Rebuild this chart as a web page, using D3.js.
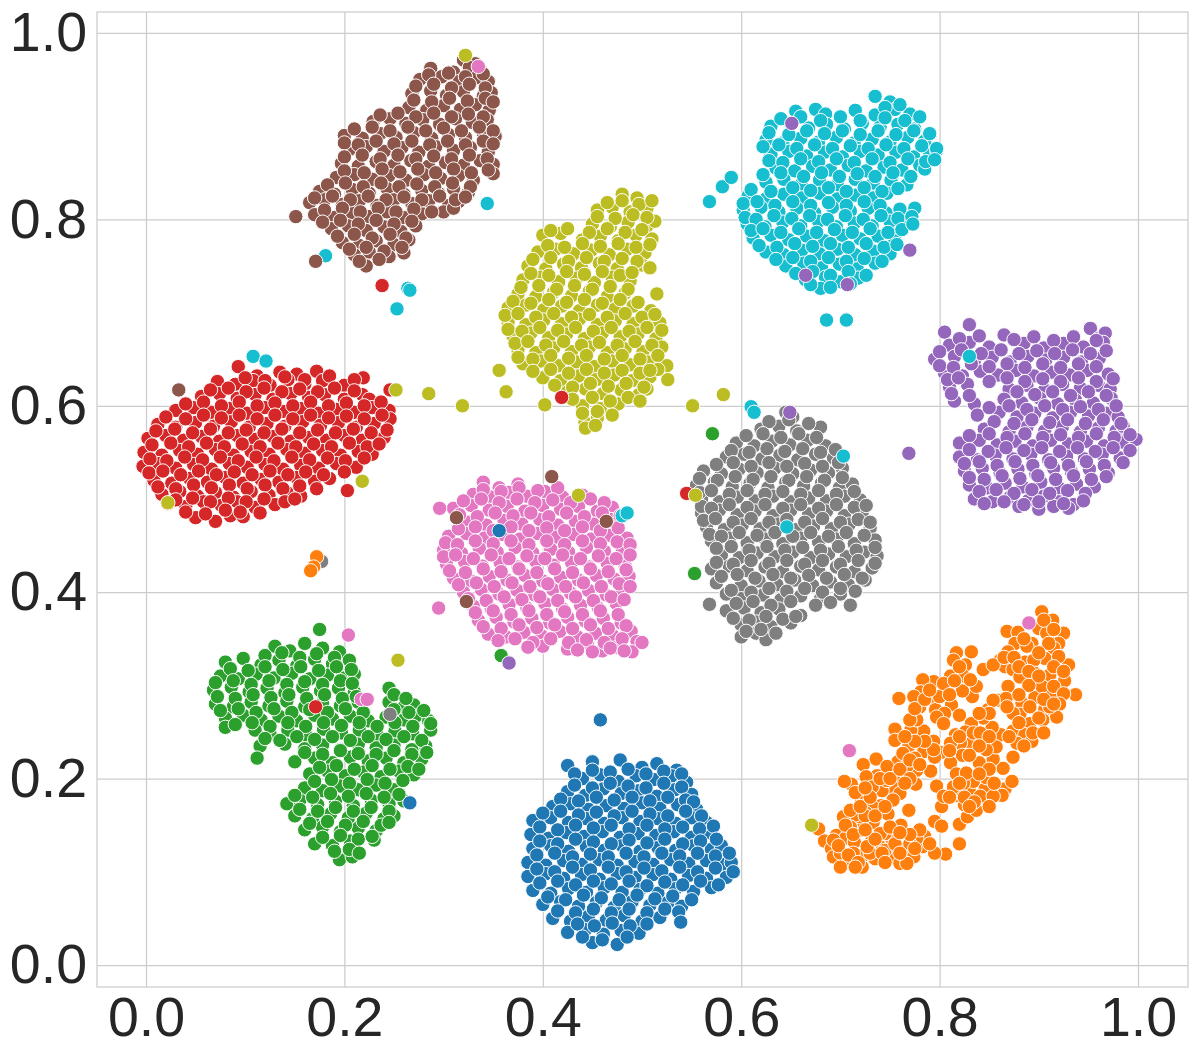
<!DOCTYPE html>
<html>
<head>
<meta charset="utf-8">
<script src="https://d3js.org/d3.v7.min.js"></script>
<style>
  body { margin: 0; background: #fff; }
  text { font-family: "Liberation Sans", Arial, sans-serif; }
</style>
</head>
<body>
<div id="chart"></div>
<script>
const xTicks = [0, 0.2, 0.4, 0.6, 0.8, 1.0];
const yTicks = [0, 0.2, 0.4, 0.6, 0.8, 1.0];
const palette = ['#1f77b4', '#ff7f0e', '#2ca02c', '#d62728', '#9467bd', '#8c564b', '#e377c2', '#7f7f7f', '#bcbd22', '#17becf'];

const blue = [[.425,.214],[.45,.218],[.478,.22],[.5,.212],[.515,.216],[.535,.209],[.44,.2],[.458,.204],[.476,.197],[.494,.203],[.512,.199],[.53,.203],[.545,.196],[.425,.186],[.443,.182],[.461,.189],[.479,.184],[.497,.187],[.515,.181],[.533,.188],[.55,.183],[.41,.17],[.428,.173],[.446,.167],[.464,.171],[.482,.168],[.5,.174],[.518,.168],[.536,.172],[.555,.167],[.39,.155],[.408,.158],[.426,.153],[.444,.157],[.462,.152],[.48,.158],[.498,.154],[.516,.157],[.534,.152],[.55,.158],[.565,.153],[.388,.14],[.406,.136],[.424,.142],[.442,.138],[.46,.143],[.478,.137],[.496,.141],[.514,.139],[.532,.143],[.55,.137],[.568,.142],[.39,.125],[.408,.128],[.426,.122],[.444,.127],[.462,.123],[.48,.128],[.498,.122],[.516,.126],[.534,.123],[.552,.128],[.57,.124],[.58,.128],[.385,.11],[.403,.107],[.421,.112],[.439,.108],[.457,.113],[.475,.107],[.493,.111],[.511,.108],[.529,.113],[.547,.109],[.565,.112],[.583,.108],[.59,.11],[.385,.095],[.403,.098],[.421,.093],[.439,.097],[.457,.092],[.475,.098],[.493,.094],[.511,.097],[.529,.092],[.547,.096],[.565,.093],[.585,.094],[.39,.08],[.408,.077],[.426,.082],[.444,.078],[.462,.083],[.48,.078],[.498,.081],[.516,.077],[.534,.082],[.552,.079],[.57,.083],[.4,.065],[.418,.068],[.436,.063],[.454,.067],[.472,.062],[.49,.068],[.508,.064],[.526,.067],[.54,.063],[.41,.05],[.428,.047],[.446,.052],[.464,.048],[.482,.053],[.5,.047],[.518,.051],[.425,.035],[.443,.038],[.461,.033],[.479,.037],[.497,.034],[.45,.024],[.475,.022],
  [.432,.205],[.45,.209],[.468,.207],[.486,.21],[.504,.205],[.522,.208],[.54,.205],[.432,.193],[.45,.19],[.468,.195],[.486,.192],[.504,.19],[.522,.195],[.54,.191],[.418,.178],[.436,.176],[.454,.18],[.472,.177],[.49,.18],[.508,.176],[.526,.18],[.544,.177],[.552,.175],[.4,.163],[.418,.165],[.436,.161],[.454,.164],[.472,.16],[.49,.165],[.508,.162],[.526,.16],[.544,.165],[.56,.16],[.397,.148],[.415,.145],[.433,.15],[.451,.147],[.469,.15],[.487,.146],[.505,.15],[.523,.146],[.541,.148],[.558,.146],[.572,.149],[.397,.133],[.415,.13],[.433,.135],[.451,.132],[.469,.13],[.487,.134],[.505,.131],[.523,.135],[.541,.13],[.559,.133],[.575,.135],[.394,.118],[.412,.12],[.43,.116],[.448,.119],[.466,.116],[.484,.12],[.502,.116],[.52,.12],[.538,.117],[.556,.12],[.574,.117],[.588,.12],[.394,.103],[.412,.1],[.43,.105],[.448,.102],[.466,.105],[.484,.1],[.502,.104],[.52,.101],[.538,.105],[.556,.1],[.574,.104],[.592,.1],[.397,.088],[.415,.09],[.433,.086],[.451,.09],[.469,.087],[.487,.09],[.505,.085],[.523,.089],[.541,.086],[.559,.09],[.577,.086],[.405,.073],[.423,.07],[.441,.075],[.459,.072],[.477,.07],[.495,.075],[.513,.071],[.531,.074],[.55,.07],[.415,.058],[.433,.056],[.451,.06],[.469,.056],[.487,.06],[.505,.056],[.523,.06],[.537,.057],[.435,.044],[.452,.042],[.47,.045],[.488,.042],[.505,.044],[.44,.03],[.46,.027],[.485,.03]];

const orange = [[.903,.379],[.914,.37],[.9,.361],[.868,.358],[.879,.357],[.915,.352],[.925,.356],[.908,.356],[.893,.345],[.876,.345],[.92,.345],[.888,.342],[.915,.34],[.869,.336],[.861,.327],[.832,.336],[.817,.335],[.814,.327],[.826,.322],[.844,.317],[.866,.32],[.886,.325],[.906,.329],[.93,.322],[.92,.331],[.854,.322],[.874,.317],[.895,.327],[.896,.313],[.911,.311],[.881,.309],[.926,.305],[.937,.29],[.913,.29],[.896,.287],[.903,.299],[.915,.299],[.925,.291],[.869,.299],[.859,.284],[.833,.288],[.823,.294],[.807,.296],[.824,.31],[.811,.31],[.794,.304],[.783,.306],[.781,.293],[.759,.286],[.79,.285],[.812,.279],[.796,.274],[.805,.27],[.82,.268],[.78,.277],[.849,.274],[.867,.286],[.883,.281],[.881,.269],[.906,.274],[.921,.28],[.918,.266],[.904,.263],[.891,.259],[.874,.251],[.886,.247],[.893,.24],[.878,.238],[.862,.247],[.853,.255],[.844,.265],[.832,.259],[.826,.25],[.816,.247],[.832,.238],[.846,.241],[.821,.238],[.823,.225],[.801,.228],[.794,.24],[.784,.251],[.771,.252],[.777,.263],[.755,.253],[.755,.241],[.769,.235],[.784,.229],[.775,.222],[.795,.223],[.811,.217],[.791,.208],[.772,.206],[.758,.218],[.758,.203],[.736,.221],[.723,.215],[.737,.203],[.726,.202],[.711,.194],[.704,.197],[.747,.213],[.776,.194],[.753,.19],[.742,.187],[.721,.179],[.741,.171],[.732,.17],[.748,.162],[.769,.166],[.761,.15],[.733,.153],[.721,.152],[.715,.161],[.703,.159],[.718,.144],[.678,.146],[.684,.133],[.691,.125],[.702,.111],[.696,.139],[.705,.136],[.714,.132],[.723,.118],[.722,.105],[.735,.114],[.738,.13],[.752,.135],[.731,.132],[.745,.141],[.767,.122],[.756,.114],[.783,.127],[.785,.138],[.795,.154],[.802,.149],[.82,.151],[.828,.159],[.837,.166],[.825,.172],[.802,.17],[.797,.192],[.804,.181],[.817,.205],[.83,.187],[.817,.182],[.834,.197],[.846,.189],[.847,.201],[.84,.217],[.866,.189],[.864,.211],[.873,.197],[.863,.182],[.874,.223],[.854,.221],[.82,.13],[.806,.119],[.795,.12],[.774,.116],[.777,.136],[.71,.166],[.693,.116],[.71,.109],[.76,.109],[.767,.109],[.74,.141],[.891,.277],[.874,.27],[.911,.277],[.894,.249],[.905,.249],[.854,.284],[.868,.277],[.837,.299],[.831,.306],[.8,.288],[.774,.288],[.804,.302],[.77,.263],[.797,.266],[.804,.259],[.834,.249],[.841,.249],[.857,.234],[.847,.231],[.811,.238],[.794,.231],[.763,.227],[.777,.209],[.767,.213],[.747,.198],[.732,.191],[.76,.184],[.753,.177],[.726,.163],[.75,.148],[.71,.148],[.693,.134],[.7,.12],[.713,.12],[.73,.12],[.745,.123],[.757,.127],[.77,.13],[.78,.145],[.824,.195],[.841,.181],[.854,.181],[.814,.191],[.827,.206],
  [.698,.128],[.708,.118],[.718,.11],[.727,.127],[.742,.12],[.705,.15],[.713,.14],[.725,.16],[.735,.16],[.745,.17],[.72,.17],[.73,.18],[.715,.185],[.725,.19],[.74,.2],[.75,.2],[.76,.21],[.77,.2],[.765,.195],[.77,.22],[.78,.215],[.785,.24],[.775,.24],[.765,.245],[.775,.275],[.785,.285],[.79,.295],[.81,.29],[.815,.305],[.82,.32],[.865,.33],[.875,.33],[.88,.32],[.89,.315],[.89,.3],[.9,.31],[.915,.32],[.925,.315],[.91,.345],[.9,.335],[.885,.35],[.905,.37],[.915,.36],[.88,.29],[.905,.285],[.915,.28],[.9,.265],[.88,.26],[.885,.235],[.87,.245],[.85,.27],[.84,.27],[.85,.245],[.84,.235],[.82,.245],[.81,.23],[.83,.225],[.85,.21],[.84,.205],[.855,.195],[.82,.195],[.81,.18],[.825,.18],[.835,.175],[.85,.17],[.83,.17],[.755,.13],[.76,.12],[.775,.125],[.79,.13],[.745,.11],[.7,.105],[.715,.105],[.77,.14],[.76,.142],[.735,.135],[.725,.145]];

const green = [[.175,.36],[.13,.342],[.145,.337],[.16,.345],[.178,.34],[.195,.336],[.08,.325],[.098,.329],[.116,.322],[.134,.327],[.152,.321],[.17,.328],[.188,.323],[.205,.327],[.075,.31],[.093,.307],[.111,.312],[.129,.308],[.147,.313],[.165,.307],[.183,.311],[.2,.308],[.21,.312],[.068,.295],[.086,.298],[.104,.293],[.122,.297],[.14,.292],[.158,.298],[.176,.294],[.194,.297],[.21,.293],[.245,.297],[.07,.28],[.088,.277],[.106,.282],[.124,.278],[.142,.283],[.16,.277],[.178,.281],[.196,.278],[.214,.282],[.245,.282],[.26,.277],[.27,.279],[.08,.265],[.098,.268],[.116,.263],[.134,.267],[.152,.262],[.17,.268],[.188,.264],[.206,.267],[.224,.262],[.242,.266],[.26,.263],[.272,.267],[.285,.262],[.08,.255],[.11,.252],[.125,.248],[.143,.252],[.161,.247],[.179,.253],[.197,.249],[.215,.252],[.233,.247],[.251,.251],[.269,.248],[.287,.252],[.115,.235],[.14,.237],[.16,.232],[.178,.236],[.196,.231],[.214,.237],[.232,.233],[.25,.236],[.268,.231],[.282,.235],[.112,.222],[.15,.218],[.17,.222],[.188,.217],[.206,.223],[.224,.219],[.242,.222],[.26,.217],[.278,.221],[.165,.205],[.183,.208],[.201,.203],[.219,.207],[.237,.202],[.255,.208],[.27,.204],[.16,.19],[.178,.187],[.196,.192],[.214,.188],[.232,.193],[.25,.188],[.142,.173],[.155,.177],[.173,.172],[.191,.176],[.209,.171],[.227,.177],[.245,.173],[.26,.176],[.15,.16],[.168,.157],[.186,.162],[.204,.158],[.222,.163],[.24,.157],[.25,.16],[.16,.145],[.178,.148],[.196,.143],[.214,.147],[.232,.144],[.17,.13],[.188,.128],[.206,.133],[.23,.134],[.195,.113],[.208,.116],
  [.12,.332],[.137,.335],[.155,.33],[.172,.334],[.19,.33],[.085,.318],[.103,.316],[.12,.32],[.138,.317],[.156,.32],[.174,.316],[.192,.32],[.207,.317],[.07,.303],[.088,.305],[.106,.301],[.124,.305],[.142,.301],[.16,.304],[.178,.301],[.196,.305],[.208,.302],[.072,.288],[.09,.286],[.108,.29],[.126,.287],[.144,.29],[.162,.286],[.18,.29],[.198,.286],[.212,.288],[.25,.29],[.262,.286],[.075,.273],[.093,.275],[.111,.271],[.129,.275],[.147,.271],[.165,.274],[.183,.271],[.201,.275],[.219,.271],[.25,.274],[.265,.271],[.28,.273],[.09,.258],[.107,.26],[.125,.256],[.143,.26],[.161,.256],[.179,.26],[.197,.257],[.215,.26],[.233,.256],[.251,.26],[.269,.256],[.287,.259],[.12,.243],[.135,.241],[.152,.245],[.17,.242],[.188,.245],[.206,.241],[.224,.245],[.242,.242],[.26,.245],[.278,.241],[.16,.228],[.178,.226],[.196,.23],[.214,.227],[.232,.226],[.25,.23],[.268,.226],[.283,.228],[.175,.212],[.192,.214],[.21,.21],[.228,.214],[.246,.21],[.264,.213],[.275,.21],[.17,.197],[.187,.199],[.205,.195],[.223,.199],[.241,.195],[.259,.198],[.15,.182],[.168,.18],[.186,.184],[.204,.181],[.222,.184],[.24,.18],[.255,.183],[.155,.167],[.173,.165],[.191,.169],[.209,.165],[.227,.169],[.245,.165],[.165,.152],[.183,.154],[.201,.15],[.219,.154],[.237,.15],[.245,.153],[.178,.137],[.196,.139],[.214,.135],[.228,.138],[.19,.122],[.205,.124],[.215,.12]];

const red = [[.093,.642],[.112,.632],[.135,.636],[.152,.634],[.172,.637],[.072,.626],[.09,.623],[.108,.627],[.125,.622],[.143,.628],[.16,.623],[.178,.627],[.2,.622],[.219,.63],[.056,.61],[.074,.613],[.092,.608],[.11,.612],[.128,.607],[.146,.613],[.164,.609],[.18,.612],[.2,.607],[.218,.612],[.225,.607],[.03,.595],[.048,.598],[.066,.593],[.084,.597],[.102,.592],[.12,.598],[.138,.594],[.156,.597],[.174,.592],[.192,.596],[.21,.593],[.228,.598],[.245,.595],[.012,.58],[.03,.577],[.05,.582],[.068,.578],[.086,.583],[.104,.577],[.122,.581],[.14,.578],[.158,.583],[.176,.579],[.194,.582],[.212,.577],[.23,.581],[.246,.586],[.002,.565],[.02,.568],[.038,.563],[.056,.567],[.074,.562],[.092,.568],[.11,.564],[.128,.567],[.146,.562],[.164,.566],[.182,.563],[.2,.568],[.218,.563],[.24,.566],[-.002,.55],[.016,.547],[.034,.552],[.052,.548],[.07,.553],[.088,.547],[.106,.551],[.124,.548],[.142,.553],[.16,.549],[.178,.552],[.196,.547],[.214,.551],[.228,.548],[-.003,.535],[.012,.538],[.03,.533],[.048,.537],[.066,.532],[.084,.538],[.102,.534],[.12,.537],[.138,.532],[.156,.536],[.174,.533],[.192,.538],[.212,.534],[.008,.52],[.026,.517],[.044,.522],[.062,.518],[.08,.523],[.098,.517],[.116,.521],[.134,.518],[.152,.523],[.17,.519],[.185,.522],[.016,.505],[.034,.508],[.052,.503],[.07,.507],[.088,.502],[.106,.508],[.124,.504],[.142,.507],[.156,.503],[.022,.495],[.04,.492],[.058,.497],[.076,.493],[.092,.497],[.11,.491],[.13,.494],[.05,.48],[.07,.476],[.085,.482],[.098,.481],
  [.1,.63],[.12,.627],[.14,.631],[.16,.628],[.185,.632],[.21,.628],[.065,.617],[.083,.619],[.101,.615],[.119,.619],[.137,.615],[.155,.618],[.173,.615],[.19,.619],[.21,.616],[.04,.602],[.058,.604],[.076,.6],[.094,.604],[.112,.6],[.13,.603],[.148,.6],[.166,.604],[.184,.6],[.202,.603],[.22,.6],[.237,.604],[.02,.588],[.04,.586],[.058,.59],[.076,.587],[.094,.59],[.112,.586],[.13,.59],[.148,.586],[.166,.59],[.184,.587],[.202,.589],[.22,.586],[.238,.59],[.01,.573],[.029,.575],[.047,.571],[.065,.575],[.083,.571],[.101,.574],[.119,.571],[.137,.575],[.155,.571],[.173,.574],[.191,.571],[.209,.575],[.227,.571],[.243,.574],[.006,.558],[.025,.56],[.043,.556],[.061,.56],[.079,.556],[.097,.559],[.115,.556],[.133,.56],[.151,.556],[.169,.559],[.187,.556],[.205,.56],[.223,.556],[.235,.559],[.004,.543],[.021,.541],[.039,.545],[.057,.542],[.075,.545],[.093,.541],[.111,.545],[.129,.541],[.147,.545],[.165,.542],[.183,.544],[.201,.541],[.22,.544],[.003,.528],[.017,.53],[.035,.526],[.053,.53],[.071,.526],[.089,.529],[.107,.526],[.125,.53],[.143,.526],[.161,.529],[.179,.526],[.2,.529],[.012,.513],[.03,.511],[.048,.515],[.066,.512],[.084,.515],[.102,.511],[.12,.515],[.138,.511],[.155,.514],[.172,.511],[.03,.499],[.047,.501],[.065,.497],[.083,.501],[.101,.497],[.119,.5],[.14,.497],[.15,.5],[.04,.486],[.06,.484],[.08,.488],[.095,.486],[.115,.485]];

const purple = [[.952,.683],[.96,.672],[.967,.678],[.805,.679],[.83,.687],[.81,.665],[.83,.668],[.85,.663],[.865,.676],[.885,.667],[.905,.662],[.925,.667],[.945,.663],[.965,.668],[.795,.65],[.815,.653],[.835,.648],[.853,.652],[.871,.647],[.889,.653],[.907,.649],[.925,.652],[.943,.647],[.961,.651],[.805,.635],[.823,.632],[.841,.637],[.859,.633],[.877,.638],[.895,.632],[.913,.636],[.931,.633],[.949,.638],[.97,.634],[.81,.62],[.828,.623],[.87,.618],[.888,.622],[.906,.617],[.924,.623],[.942,.619],[.96,.622],[.972,.618],[.815,.605],[.835,.602],[.865,.607],[.883,.603],[.901,.608],[.919,.602],[.937,.606],[.955,.603],[.973,.608],[.838,.59],[.86,.593],[.878,.588],[.896,.592],[.914,.587],[.932,.593],[.95,.589],[.968,.592],[.98,.588],[.845,.575],[.87,.572],[.888,.577],[.906,.573],[.924,.578],[.942,.572],[.96,.576],[.978,.573],[.985,.578],[.82,.56],[.84,.563],[.858,.558],[.876,.562],[.894,.557],[.912,.563],[.93,.559],[.948,.562],[.966,.557],[.984,.561],[.998,.564],[.82,.545],[.838,.542],[.856,.547],[.874,.543],[.892,.548],[.91,.542],[.928,.546],[.946,.543],[.964,.548],[.982,.544],[.825,.53],[.843,.533],[.861,.528],[.879,.532],[.897,.527],[.915,.533],[.933,.529],[.951,.532],[.97,.528],[.83,.515],[.848,.512],[.866,.517],[.884,.513],[.902,.518],[.92,.512],[.938,.516],[.956,.513],[.835,.5],[.853,.497],[.871,.502],[.889,.498],[.905,.503],[.92,.497],[.935,.494],[.88,.492],[.9,.489],[.915,.492],[.93,.49],
  [.82,.672],[.84,.675],[.875,.671],[.895,.674],[.915,.67],[.935,.674],[.958,.67],[.8,.658],[.822,.66],[.842,.656],[.862,.66],[.88,.656],[.898,.659],[.916,.656],[.934,.66],[.952,.656],[.968,.659],[.8,.643],[.814,.641],[.832,.645],[.85,.642],[.868,.645],[.886,.641],[.904,.645],[.922,.641],[.94,.645],[.958,.642],[.808,.628],[.819,.63],[.85,.626],[.868,.63],[.886,.626],[.904,.629],[.922,.626],[.94,.63],[.958,.626],[.975,.629],[.812,.613],[.83,.611],[.878,.615],[.896,.612],[.914,.615],[.932,.611],[.95,.615],[.968,.611],[.85,.598],[.87,.6],[.888,.596],[.906,.6],[.924,.596],[.942,.599],[.96,.596],[.978,.6],[.855,.583],[.875,.581],[.893,.585],[.911,.582],[.929,.585],[.947,.581],[.965,.585],[.983,.581],[.83,.568],[.85,.57],[.868,.566],[.886,.57],[.904,.566],[.922,.569],[.94,.566],[.958,.57],[.976,.566],[.992,.569],[.83,.553],[.849,.551],[.867,.555],[.885,.552],[.903,.555],[.921,.551],[.939,.555],[.957,.551],[.975,.555],[.992,.552],[.825,.538],[.84,.54],[.858,.536],[.876,.54],[.894,.536],[.912,.539],[.93,.536],[.948,.54],[.966,.536],[.985,.539],[.83,.523],[.845,.521],[.863,.525],[.881,.522],[.899,.525],[.917,.521],[.935,.525],[.953,.521],[.968,.524],[.84,.508],[.857,.51],[.875,.506],[.893,.51],[.911,.506],[.929,.509],[.947,.506],[.845,.495],[.865,.497],[.885,.494],[.9,.497],[.925,.495],[.945,.498]];

const brown = [[.32,.971],[.332,.967],[.287,.962],[.31,.958],[.326,.963],[.338,.959],[.276,.95],[.298,.953],[.316,.948],[.333,.952],[.345,.948],[.268,.935],[.287,.938],[.303,.933],[.32,.937],[.34,.932],[.348,.936],[.265,.92],[.283,.917],[.3,.922],[.317,.918],[.332,.923],[.346,.917],[.229,.905],[.246,.908],[.262,.903],[.279,.907],[.296,.902],[.312,.908],[.329,.904],[.344,.907],[.2,.89],[.218,.887],[.236,.892],[.252,.888],[.27,.893],[.288,.887],[.305,.891],[.322,.888],[.34,.893],[.352,.889],[.205,.875],[.222,.878],[.24,.873],[.258,.877],[.275,.872],[.292,.878],[.31,.874],[.327,.877],[.345,.872],[.197,.86],[.214,.857],[.232,.862],[.25,.858],[.267,.863],[.285,.857],[.302,.861],[.32,.858],[.337,.863],[.35,.859],[.192,.845],[.21,.848],[.228,.843],[.245,.847],[.262,.842],[.28,.848],[.297,.844],[.315,.847],[.33,.842],[.35,.849],[.175,.83],[.19,.827],[.208,.832],[.225,.828],[.243,.833],[.26,.827],[.278,.831],[.295,.828],[.31,.833],[.325,.829],[.165,.818],[.18,.821],[.198,.816],[.215,.82],[.233,.815],[.25,.821],[.268,.817],[.285,.82],[.305,.815],[.315,.819],[.17,.805],[.19,.802],[.208,.807],[.225,.803],[.243,.808],[.26,.802],[.278,.806],[.3,.808],[.31,.812],[.187,.79],[.204,.793],[.222,.788],[.24,.792],[.257,.787],[.272,.793],[.198,.775],[.215,.772],[.232,.777],[.25,.773],[.265,.778],[.21,.762],[.225,.765],[.245,.76],[.26,.764],[.222,.75],
  [.285,.955],[.305,.957],[.322,.953],[.34,.956],[.272,.943],[.29,.945],[.308,.941],[.326,.945],[.342,.941],[.27,.928],[.288,.926],[.306,.93],[.324,.927],[.342,.93],[.35,.926],[.236,.912],[.254,.914],[.272,.91],[.29,.914],[.308,.91],[.325,.913],[.34,.91],[.21,.897],[.228,.899],[.246,.895],[.264,.899],[.282,.895],[.3,.898],[.318,.895],[.336,.899],[.35,.895],[.2,.882],[.214,.88],[.232,.884],[.25,.881],[.268,.884],[.286,.88],[.304,.884],[.322,.88],[.34,.884],[.35,.881],[.2,.867],[.218,.869],[.236,.865],[.254,.869],[.272,.865],[.29,.868],[.308,.865],[.326,.869],[.344,.865],[.2,.852],[.22,.85],[.238,.854],[.256,.851],[.274,.854],[.292,.85],[.31,.854],[.328,.85],[.345,.853],[.183,.837],[.201,.839],[.219,.835],[.237,.839],[.255,.835],[.273,.838],[.291,.835],[.309,.839],[.327,.835],[.17,.823],[.188,.825],[.206,.821],[.224,.825],[.242,.821],[.26,.824],[.278,.821],[.296,.825],[.312,.821],[.322,.824],[.18,.81],[.198,.812],[.216,.808],[.234,.812],[.252,.808],[.27,.811],[.288,.808],[.178,.797],[.196,.799],[.214,.795],[.232,.799],[.25,.795],[.268,.798],[.193,.782],[.21,.784],[.228,.78],[.246,.784],[.262,.78],[.205,.768],[.222,.77],[.24,.766],[.258,.77],[.215,.755],[.235,.757]];

const pink = [[.34,.518],[.356,.512],[.375,.516],[.33,.505],[.348,.502],[.366,.507],[.384,.503],[.402,.508],[.42,.502],[.44,.504],[.31,.49],[.328,.493],[.346,.488],[.364,.492],[.382,.487],[.4,.493],[.418,.489],[.436,.492],[.455,.487],[.47,.491],[.325,.475],[.343,.472],[.361,.477],[.379,.473],[.397,.478],[.415,.472],[.433,.476],[.451,.473],[.469,.478],[.305,.46],[.323,.463],[.341,.458],[.359,.462],[.377,.457],[.395,.463],[.413,.459],[.431,.462],[.449,.457],[.467,.461],[.485,.458],[.3,.445],[.318,.442],[.336,.447],[.354,.443],[.372,.448],[.39,.442],[.408,.446],[.426,.443],[.444,.448],[.462,.444],[.48,.447],[.303,.43],[.321,.433],[.339,.428],[.357,.432],[.375,.427],[.393,.433],[.411,.429],[.429,.432],[.447,.427],[.465,.431],[.483,.428],[.31,.415],[.328,.412],[.346,.417],[.364,.413],[.382,.418],[.4,.412],[.418,.416],[.436,.413],[.454,.418],[.472,.414],[.487,.417],[.32,.4],[.338,.403],[.356,.398],[.374,.402],[.392,.397],[.41,.403],[.428,.399],[.446,.402],[.464,.397],[.48,.401],[.33,.385],[.348,.382],[.366,.387],[.384,.383],[.402,.388],[.42,.382],[.438,.386],[.456,.383],[.474,.388],[.335,.37],[.353,.373],[.371,.368],[.389,.372],[.407,.367],[.425,.373],[.443,.369],[.461,.372],[.479,.367],[.345,.355],[.363,.352],[.381,.357],[.399,.353],[.417,.358],[.435,.352],[.453,.356],[.471,.353],[.489,.358],[.495,.347],[.4,.342],[.425,.339],[.445,.344],[.46,.337],[.475,.341],[.49,.336],
  [.34,.51],[.358,.508],[.376,.512],[.395,.509],[.415,.512],[.32,.498],[.338,.5],[.356,.496],[.374,.5],[.392,.496],[.41,.499],[.428,.496],[.448,.5],[.462,.496],[.316,.483],[.334,.481],[.352,.485],[.37,.482],[.388,.485],[.406,.481],[.424,.485],[.442,.481],[.46,.485],[.478,.482],[.315,.468],[.332,.47],[.35,.466],[.368,.47],[.386,.466],[.404,.469],[.422,.466],[.44,.47],[.458,.466],[.476,.469],[.302,.453],[.314,.451],[.332,.455],[.35,.452],[.368,.455],[.386,.451],[.404,.455],[.422,.451],[.44,.455],[.458,.452],[.475,.454],[.488,.451],[.3,.438],[.312,.44],[.33,.436],[.348,.44],[.366,.436],[.384,.439],[.402,.436],[.42,.44],[.438,.436],[.456,.439],[.474,.436],[.488,.44],[.306,.423],[.322,.421],[.34,.425],[.358,.422],[.376,.425],[.394,.421],[.412,.425],[.43,.421],[.448,.425],[.466,.422],[.484,.424],[.315,.408],[.333,.41],[.351,.406],[.369,.41],[.387,.406],[.405,.409],[.423,.406],[.441,.41],[.459,.406],[.477,.409],[.488,.406],[.325,.393],[.343,.391],[.361,.395],[.379,.392],[.397,.395],[.415,.391],[.433,.395],[.451,.391],[.469,.395],[.482,.392],[.332,.378],[.35,.38],[.368,.376],[.386,.38],[.404,.376],[.422,.379],[.44,.376],[.458,.38],[.476,.376],[.34,.363],[.358,.361],[.376,.365],[.394,.362],[.412,.365],[.43,.361],[.448,.365],[.466,.361],[.484,.364],[.355,.348],[.372,.35],[.39,.346],[.408,.35],[.426,.346],[.444,.349],[.462,.346],[.48,.35],[.5,.346],[.435,.338],[.45,.336],[.468,.34],[.482,.337]];

const gray = [[.645,.593],[.652,.588],[.62,.575],[.638,.578],[.656,.573],[.68,.577],[.595,.56],[.613,.557],[.631,.562],[.649,.558],[.667,.563],[.685,.557],[.585,.545],[.603,.548],[.621,.543],[.639,.547],[.657,.542],[.675,.548],[.693,.544],[.562,.53],[.58,.527],[.598,.532],[.616,.528],[.634,.533],[.652,.527],[.67,.531],[.688,.528],[.702,.533],[.555,.515],[.573,.518],[.591,.513],[.609,.517],[.627,.512],[.645,.518],[.663,.514],[.681,.517],[.699,.512],[.712,.516],[.56,.5],[.578,.497],[.596,.502],[.614,.498],[.632,.503],[.65,.497],[.668,.501],[.686,.498],[.704,.503],[.72,.499],[.56,.485],[.578,.488],[.596,.483],[.614,.487],[.632,.482],[.65,.488],[.668,.484],[.686,.487],[.704,.482],[.722,.486],[.565,.47],[.583,.467],[.601,.472],[.619,.468],[.637,.473],[.655,.467],[.673,.471],[.691,.468],[.709,.473],[.73,.469],[.57,.455],[.588,.458],[.606,.453],[.624,.457],[.642,.452],[.66,.458],[.678,.454],[.696,.457],[.714,.452],[.735,.456],[.58,.44],[.598,.437],[.616,.442],[.634,.438],[.652,.443],[.67,.437],[.688,.441],[.706,.438],[.724,.443],[.737,.439],[.57,.425],[.588,.428],[.606,.423],[.624,.427],[.642,.422],[.66,.428],[.678,.424],[.696,.427],[.714,.422],[.732,.426],[.575,.41],[.6,.407],[.618,.412],[.636,.408],[.654,.413],[.672,.407],[.69,.411],[.708,.408],[.725,.413],[.568,.387],[.585,.398],[.6,.393],[.622,.397],[.64,.392],[.66,.396],[.68,.393],[.7,.398],[.71,.386],[.585,.38],[.603,.383],[.62,.378],[.638,.382],[.66,.375],[.6,.365],[.615,.368],[.63,.363],[.65,.367],[.6,.352],[.615,.356],[.625,.349],
  [.628,.583],[.648,.585],[.668,.581],[.605,.568],[.622,.57],[.64,.566],[.658,.57],[.676,.566],[.59,.552],[.608,.55],[.626,.554],[.644,.551],[.662,.554],[.68,.55],[.695,.553],[.575,.537],[.592,.539],[.61,.535],[.628,.539],[.646,.535],[.664,.538],[.682,.535],[.698,.539],[.558,.522],[.576,.52],[.594,.524],[.612,.521],[.63,.524],[.648,.52],[.666,.524],[.684,.52],[.702,.523],[.558,.507],[.57,.509],[.588,.505],[.606,.509],[.624,.505],[.642,.508],[.66,.505],[.678,.509],[.696,.505],[.714,.508],[.56,.492],[.57,.49],[.588,.494],[.606,.491],[.624,.494],[.642,.49],[.66,.494],[.678,.49],[.696,.494],[.714,.491],[.726,.493],[.562,.477],[.574,.479],[.592,.475],[.61,.479],[.628,.475],[.646,.478],[.664,.475],[.682,.479],[.7,.475],[.718,.478],[.73,.475],[.568,.462],[.58,.46],[.598,.464],[.616,.461],[.634,.464],[.652,.46],[.67,.464],[.688,.46],[.706,.464],[.724,.461],[.575,.447],[.59,.449],[.608,.445],[.626,.449],[.644,.445],[.662,.448],[.68,.445],[.698,.449],[.716,.445],[.735,.448],[.575,.432],[.592,.43],[.61,.434],[.628,.431],[.646,.434],[.664,.43],[.682,.434],[.7,.43],[.718,.434],[.735,.431],[.58,.417],[.596,.419],[.614,.415],[.632,.419],[.65,.415],[.668,.418],[.686,.415],[.704,.419],[.722,.415],[.59,.402],[.61,.4],[.628,.404],[.646,.401],[.664,.404],[.682,.4],[.7,.404],[.715,.401],[.595,.388],[.612,.39],[.63,.386],[.65,.39],[.675,.386],[.69,.389],[.592,.372],[.608,.37],[.625,.374],[.642,.371],[.655,.374],[.605,.358],[.62,.36],[.635,.356]];

const olive = [[.48,.827],[.495,.823],[.455,.81],[.47,.813],[.488,.808],[.505,.812],[.45,.795],[.468,.792],[.486,.797],[.505,.793],[.513,.798],[.4,.783],[.418,.785],[.44,.778],[.458,.782],[.476,.777],[.494,.783],[.51,.779],[.395,.765],[.413,.768],[.431,.763],[.449,.767],[.467,.762],[.485,.768],[.503,.764],[.385,.75],[.403,.747],[.421,.752],[.439,.748],[.457,.753],[.475,.747],[.5,.751],[.508,.748],[.38,.735],[.398,.738],[.416,.733],[.434,.737],[.452,.732],[.47,.738],[.488,.734],[.375,.72],[.393,.717],[.411,.722],[.429,.718],[.447,.723],[.465,.717],[.483,.721],[.515,.72],[.365,.705],[.383,.708],[.401,.703],[.419,.707],[.437,.702],[.455,.708],[.473,.704],[.491,.707],[.509,.702],[.365,.69],[.383,.687],[.401,.692],[.419,.688],[.437,.693],[.455,.687],[.473,.691],[.491,.688],[.509,.693],[.518,.689],[.37,.675],[.388,.678],[.406,.673],[.424,.677],[.442,.672],[.46,.678],[.478,.674],[.496,.677],[.514,.672],[.375,.66],[.393,.657],[.411,.662],[.429,.658],[.447,.663],[.465,.657],[.483,.661],[.501,.658],[.52,.663],[.38,.645],[.398,.648],[.416,.643],[.434,.647],[.452,.642],[.47,.648],[.488,.644],[.506,.647],[.525,.643],[.4,.63],[.418,.627],[.436,.632],[.454,.628],[.472,.633],[.49,.627],[.508,.631],[.425,.615],[.443,.618],[.461,.613],[.479,.617],[.497,.612],[.505,.618],[.44,.6],[.458,.597],[.476,.602],[.4425,.582],[.455,.587],[.443,.576],[.453,.579],
  [.465,.818],[.48,.82],[.497,.816],[.51,.82],[.455,.803],[.473,.801],[.491,.805],[.505,.802],[.408,.788],[.425,.79],[.447,.786],[.465,.79],[.483,.786],[.5,.789],[.405,.772],[.422,.77],[.44,.774],[.458,.771],[.476,.774],[.494,.77],[.508,.773],[.39,.757],[.408,.759],[.426,.755],[.444,.759],[.462,.755],[.48,.758],[.495,.755],[.388,.742],[.406,.74],[.424,.744],[.442,.741],[.46,.744],[.478,.74],[.49,.743],[.378,.727],[.396,.729],[.414,.725],[.432,.729],[.45,.725],[.468,.728],[.486,.725],[.37,.712],[.388,.71],[.406,.714],[.424,.711],[.442,.714],[.46,.71],[.478,.714],[.496,.711],[.362,.697],[.375,.699],[.393,.695],[.411,.699],[.429,.695],[.447,.698],[.465,.695],[.483,.699],[.5,.695],[.513,.698],[.365,.682],[.379,.68],[.397,.684],[.415,.681],[.433,.684],[.451,.68],[.469,.684],[.487,.68],[.505,.684],[.52,.681],[.372,.667],[.385,.669],[.403,.665],[.421,.669],[.439,.665],[.457,.668],[.475,.665],[.493,.669],[.51,.665],[.375,.652],[.39,.65],[.408,.654],[.426,.651],[.444,.654],[.462,.65],[.48,.654],[.498,.65],[.516,.654],[.39,.637],[.408,.639],[.426,.635],[.444,.639],[.462,.635],[.48,.638],[.498,.635],[.516,.639],[.412,.622],[.43,.62],[.448,.624],[.466,.621],[.484,.624],[.502,.62],[.43,.607],[.45,.609],[.468,.605],[.486,.609],[.498,.605],[.44,.592],[.455,.594],[.47,.59]];

const cyan = [[.735,.932],[.75,.926],[.655,.916],[.675,.918],[.685,.913],[.715,.917],[.735,.912],[.755,.918],[.77,.913],[.63,.9],[.65,.903],[.668,.898],[.686,.902],[.704,.897],[.722,.903],[.74,.899],[.758,.902],[.775,.897],[.625,.885],[.642,.882],[.66,.887],[.678,.883],[.696,.888],[.714,.882],[.732,.886],[.75,.883],[.768,.888],[.785,.884],[.63,.87],[.648,.873],[.666,.868],[.684,.872],[.702,.867],[.72,.873],[.738,.869],[.756,.872],[.774,.867],[.79,.871],[.797,.874],[.635,.855],[.654,.852],[.672,.857],[.69,.853],[.708,.858],[.726,.852],[.744,.856],[.762,.853],[.78,.858],[.785,.854],[.625,.84],[.643,.843],[.661,.838],[.679,.842],[.697,.837],[.715,.843],[.733,.839],[.751,.842],[.767,.837],[.607,.825],[.625,.822],[.643,.827],[.661,.823],[.679,.828],[.697,.822],[.715,.826],[.733,.823],[.747,.828],[.602,.81],[.62,.813],[.638,.808],[.656,.812],[.674,.807],[.692,.813],[.71,.809],[.728,.812],[.746,.807],[.76,.811],[.775,.812],[.606,.795],[.624,.792],[.642,.797],[.66,.793],[.678,.798],[.696,.792],[.714,.796],[.732,.793],[.75,.798],[.765,.794],[.612,.78],[.63,.783],[.648,.778],[.666,.782],[.684,.777],[.702,.783],[.72,.779],[.738,.782],[.755,.777],[.625,.765],[.643,.762],[.661,.767],[.679,.763],[.697,.768],[.715,.762],[.733,.766],[.75,.763],[.645,.75],[.663,.753],[.681,.748],[.699,.752],[.717,.747],[.735,.753],[.665,.735],[.685,.738],[.7,.733],[.718,.737],[.68,.726],
  [.745,.92],[.76,.923],[.64,.908],[.66,.91],[.68,.906],[.7,.91],[.72,.906],[.745,.909],[.765,.906],[.78,.91],[.628,.893],[.648,.891],[.666,.895],[.684,.892],[.702,.895],[.72,.891],[.738,.895],[.756,.891],[.774,.895],[.79,.892],[.622,.878],[.638,.88],[.656,.876],[.674,.88],[.692,.876],[.71,.879],[.728,.876],[.746,.88],[.764,.876],[.782,.879],[.797,.876],[.628,.863],[.642,.861],[.66,.865],[.678,.862],[.696,.865],[.714,.861],[.732,.865],[.75,.861],[.768,.865],[.786,.862],[.795,.864],[.622,.848],[.64,.85],[.663,.846],[.681,.85],[.699,.846],[.717,.849],[.735,.846],[.753,.85],[.771,.846],[.61,.832],[.63,.83],[.652,.834],[.67,.831],[.688,.834],[.706,.83],[.724,.834],[.742,.83],[.758,.833],[.602,.817],[.616,.819],[.634,.815],[.652,.819],[.67,.815],[.688,.818],[.706,.815],[.724,.819],[.74,.815],[.604,.802],[.615,.8],[.633,.804],[.651,.801],[.669,.804],[.687,.8],[.705,.804],[.723,.8],[.741,.804],[.758,.801],[.772,.803],[.61,.788],[.622,.79],[.64,.786],[.658,.79],[.676,.786],[.694,.789],[.712,.786],[.73,.79],[.748,.786],[.762,.789],[.618,.772],[.636,.77],[.654,.774],[.672,.771],[.69,.774],[.708,.77],[.726,.774],[.744,.77],[.757,.773],[.635,.757],[.652,.759],[.67,.755],[.688,.759],[.706,.755],[.724,.758],[.742,.755],[.655,.742],[.672,.744],[.69,.74],[.708,.744],[.726,.74],[.67,.73],[.69,.727],[.71,.731]];

// strays: x, y, palette index
const strays = [[.181,.761,9],[.264,.726,9],[.266,.724,9],[.253,.704,9],[.344,.817,9],[.108,.653,9],[.121,.648,9],[.61,.599,9],[.613,.593,9],[.703,.546,9],[.48,.482,9],[.485,.485,9],[.646,.47,9],[.83,.653,9],[.568,.819,9],[.581,.835,9],[.59,.845,9],[.686,.692,9],[.706,.692,9],[.773,.795,9],
  [.151,.803,5],[.171,.755,5],[.033,.617,5],[.409,.524,5],[.464,.476,5],[.313,.48,5],[.323,.39,5],
  [.238,.729,3],[.419,.609,3],[.203,.509,3],[.246,.617,3],[.545,.506,3],[.171,.277,3],
  [.571,.57,2],[.553,.42,2],[.358,.332,2],
  [.458,.263,0],[.266,.174,0],[.356,.466,0],[.539,.046,0],
  [.177,.433,7],[.246,.269,7],
  [.172,.438,1],[.169,.427,1],[.166,.423,1],
  [.335,.964,6],[.709,.23,6],[.204,.354,6],[.217,.285,6],[.223,.285,6],[.296,.49,6],[.295,.383,6],[.385,.341,6],[.89,.367,6],
  [.366,.324,4],[.769,.549,4],[.649,.593,4],[.651,.903,4],[.77,.767,4],[.665,.74,4],[.707,.73,4],
  [.252,.617,8],[.285,.613,8],[.319,.6,8],[.551,.6,8],[.582,.612,8],[.356,.638,8],[.363,.615,8],[.322,.976,8],[.218,.519,8],[.022,.496,8],[.436,.504,8],[.554,.504,8],[.671,.15,8],[.254,.327,8],[.402,.601,8],[.526,.628,8],[.508,.638,8],[.508,.748,8]];

const clusters = [blue, orange, green, red, purple, brown, pink, gray, olive, cyan];

const width = 1200;
const height = 1050;
const margin = { top: 12, right: 12, bottom: 63, left: 97 };

const x = d3.scaleLinear()
  .domain([-0.0494, 1.0504])
  .range([margin.left, width - margin.right]);
const y = d3.scaleLinear()
  .domain([-0.0236, 1.0225])
  .range([height - margin.bottom, margin.top]);

const svg = d3.select('#chart')
  .append('svg')
  .attr('width', width)
  .attr('height', height);

const xAxis = svg.append('g')
  .attr('transform', 'translate(0,' + (height - margin.bottom) + ')')
  .call(d3.axisBottom(x)
    .tickValues(xTicks)
    .tickFormat(d3.format('.1f'))
    .tickSize(-(height - margin.top - margin.bottom))
    .tickPadding(10));
const yAxis = svg.append('g')
  .attr('transform', 'translate(' + margin.left + ',0)')
  .call(d3.axisLeft(y)
    .tickValues(yTicks)
    .tickFormat(d3.format('.1f'))
    .tickSize(-(width - margin.left - margin.right))
    .tickPadding(10));

[xAxis, yAxis].forEach(function (axis) {
  axis.selectAll('.tick line').attr('stroke', '#cccccc').attr('stroke-width', 1.25);
  axis.select('.domain').remove();
  axis.selectAll('text')
    .attr('font-size', '55.5px')
    .attr('font-family', '"Liberation Sans", Arial, sans-serif')
    .attr('fill', '#262626');
});

svg.append('rect')
  .attr('x', margin.left)
  .attr('y', margin.top)
  .attr('width', width - margin.left - margin.right)
  .attr('height', height - margin.top - margin.bottom)
  .attr('fill', 'none')
  .attr('stroke', '#cccccc')
  .attr('stroke-width', 1.25);

function drawPoints (g, rows, colorOf) {
  g.selectAll('circle')
    .data(rows)
    .enter()
    .append('circle')
    .attr('cx', function (d) { return x(d[0]); })
    .attr('cy', function (d) { return y(d[1]); })
    .attr('r', 7.2)
    .attr('fill', colorOf)
    .attr('stroke', '#ffffff')
    .attr('stroke-width', 1);
}

clusters.forEach(function (rows, i) {
  drawPoints(svg.append('g'), rows, function () { return palette[i]; });
});
drawPoints(svg.append('g'), strays, function (d) { return palette[d[2]]; });
</script>
</body>
</html>
